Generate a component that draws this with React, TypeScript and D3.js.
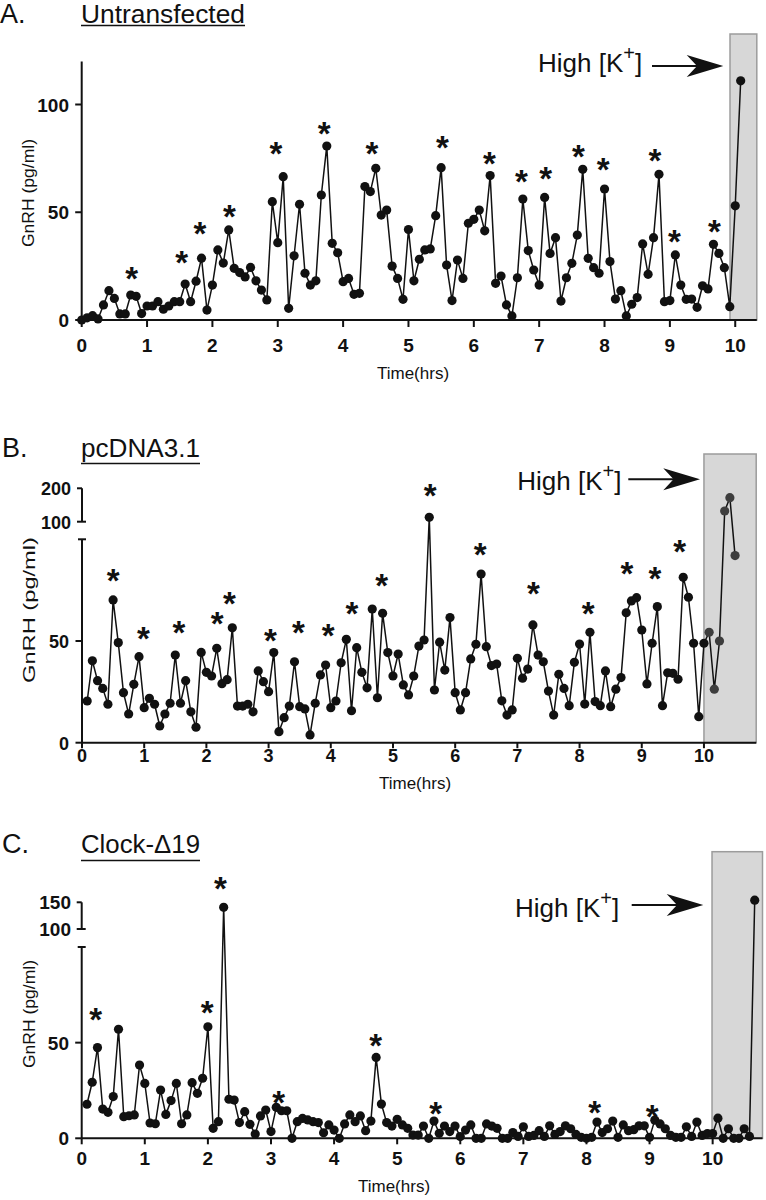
import React from 'react';
import * as d3 from 'd3';

const FONT = '"Liberation Sans", Arial, Helvetica, sans-serif';

// ---------- data ----------
const sampleMinutes = 5;
const xTickHours = [0, 1, 2, 3, 4, 5, 6, 7, 8, 9, 10];

// Panel A: Untransfected (samples start at t = 0)
const firstSampleA = 0;
const gnrhA = [
  0, 1, 2, 0.5, 7, 13.6, 10, 2.8, 2.8, 11.6,
  11, 3, 6.5, 6.5, 8.5, 5, 6.5, 8.5, 8.5, 16.7,
  8.5, 18, 28.7, 4.6, 16.2, 32.5, 26.4, 41.8, 24, 22,
  20, 24.4, 18.2, 13.9, 9.3, 54.9, 35.9, 66.5, 5.4, 29.8,
  53.7, 21.7, 16.2, 18.2, 58, 80.7, 35.6, 31.2, 17.8, 19.3,
  11.9, 12.4, 61.9, 59.6, 70.4, 48.7, 51, 25, 19.3, 9.6,
  42, 18.2, 28.2, 32.5, 33, 48.4, 70.7, 25.5, 9, 27.8,
  19.3, 44.9, 46.7, 51, 41.4, 67, 17, 20.4, 7, 1.9,
  19.6, 56.1, 32.2, 23.2, 16.2, 56.9, 30.9, 38.2, 8.8, 19.6,
  26.3, 39.4, 69.9, 28.6, 24.3, 21.7, 60.8, 27.1, 9.7, 13.6,
  1.9, 7.3, 10.4, 35.3, 21.2, 38.2, 67.6, 8.5, 9, 30.2,
  16.2, 9.6, 9.7, 5.9, 15.9, 14.4, 35.1, 30.9, 24.3, 6.2,
  53, 111,
];
const starHoursA = [0.765, 1.53, 1.81, 2.26, 2.97, 3.71, 4.44, 5.52, 6.24, 6.73, 7.1, 7.6, 7.98, 8.77, 9.07, 9.68];
const starValuesA = [22.4, 29.7, 43.6, 51.4, 80.7, 90, 80.7, 83.5, 75.8, 67.3, 68.8, 78.9, 73, 77.3, 39.8, 44.5];
const yTicksA = [0, 50, 100];

// Panel B: pcDNA3.1 (samples start at t = 5 min)
const firstSampleB = 1;
const gnrhB = [
  20.5, 40.3, 30.5, 26.7, 18.9, 70.2, 49.2, 24.6, 14.1, 28.7,
  42.3, 17.2, 21.8, 18.9, 8.2, 14.1, 19.4, 43.1, 19.4, 30.5,
  15.2, 7.6, 44.4, 34.6, 32.8, 46.4, 29, 31, 56.5, 18,
  18, 18.9, 15.2, 35.3, 30, 25.1, 44.3, 5.4, 12.3, 18,
  39.8, 17.7, 16.6, 3.8, 19.4, 33.3, 38.2, 17.2, 20.5, 39.3,
  50.8, 15.7, 46.7, 34.6, 27, 65.7, 22.1, 63.6, 44.3, 32.8,
  43.6, 28.4, 23.5, 32.8, 47.5, 50.5, 113, 25.9, 49.4, 35.7,
  61.5, 24.6, 16.1, 24.6, 41.2, 48.4, 82.9, 47.2, 37.9, 38.7,
  20.6, 13.6, 16.1, 41.5, 31.7, 36.2, 57.9, 43.1, 39.8, 25.4,
  13.6, 33.6, 26.7, 18.2, 39.5, 48.5, 19, 54.3, 20.2, 18.2,
  35.3, 17.7, 26.3, 32, 63.9, 69.7, 71.3, 55.4, 28.9, 48.9,
  66.9, 18.2, 34.4, 34.1, 31.2, 81.3, 71.5, 48.9, 12.8, 48.9,
  54.3, 26.3, 50, 132, 172, 92,
];
const starHoursB = [0.503, 0.986, 1.56, 2.175, 2.37, 3.03, 3.48, 3.96, 4.34, 4.82, 5.6, 6.4, 7.26, 8.14, 8.76, 9.21, 9.61];
const starValuesB = [83.3, 54.9, 57.5, 62, 71.8, 53.8, 57.4, 56.2, 66.9, 80.8, 200, 96, 76.7, 66.9, 86.5, 84.1, 97.2];
const yTicksLowerB = [0, 50];
const yTicksUpperB = [100, 200];

// Panel C: Clock-Δ19 (samples start at t = 5 min)
const firstSampleC = 1;
const gnrhC = [
  17.8, 29.3, 47.4, 15.3, 13.6, 21.8, 57, 11.3, 11.8, 12.2,
  38.3, 28.7, 8, 7.6, 25.2, 12.5, 19.7, 28.7, 7.6, 12.2,
  29.1, 23.5, 31.4, 58.3, 5.2, 8.7, 140.6, 20.4, 20, 8.2,
  13.9, 7.3, 2.2, 11.7, 14.8, 3.5, 16.2, 14.4, 14.4, 0,
  8.7, 10.4, 9.6, 8.7, 8.2, 2.9, 7, 4.3, 0, 7.5,
  12.2, 8.7, 11.7, 4, 9, 42.3, 17.9, 8.2, 6.4, 9.9,
  7, 5.2, 1.7, 1.7, 6.4, 0, 9, 2.6, 6.4, 3.5,
  6.4, 0.9, 4.3, 7, 0, 0, 7.5, 6.4, 5.2, 0,
  0, 3, 1, 6, 1, 1.5, 4, 1, 6.5, 2,
  3.5, 6.5, 5, 2, 0.5, 0, 0.5, 8.5, 3, 5,
  9, 0.5, 7, 4, 4.5, 6.5, 6.5, 0.5, 9.5, 7.5,
  5, 1.5, 0.5, 0.5, 6, 1, 8.5, 1.5, 2.5, 2.5,
  10.5, 0, 5, 0, 0, 5, 1, 154,
];
const starHoursC = [0.22, 1.99, 2.2, 3.12, 4.66, 5.61, 8.13, 9.04];
const starValuesC = [65.7, 69.2, 188.6, 22.6, 52.3, 16.5, 16.9, 14.8];
const yTicksLowerC = [0, 50];
const yTicksUpperC = [100, 150];

// high K+ stimulation window start (hours)
const kStartA = 9.92;
const kStartB = 10.0;
const kStartC = 9.99;

// ---------- layout ----------
type Cfg = {
  letter: string; letterX: number; title: string; titleBase: number; titleW: number; underlineY: number;
  values: number[]; firstSample: number; starH: number[]; starV: number[];
  x0: number; x1: number; hMax: number;
  yZero: number; lowerTopPx: number; lowerMax: number;
  upper: null | { dom: [number, number]; rng: [number, number] };
  lowerTicks: number[]; upperTicks: number[];
  kStart: number; boxTop: number; boxDot: string;
  xLabelBase: number; xTickLen: number; tickFs: number;
  timeX: number; timeBase: number;
  yLabX: number; yLabY: number; yLabLen: number;
  kx: number; kBase: number; lineX1: number; headBack: number; headNotch: number; headTip: number; arrowY: number;
};

const panels: Cfg[] = [
  {
    letter: 'A.', letterX: 0, title: 'Untransfected', titleBase: 23, titleW: 164, underlineY: 25.5,
    values: gnrhA, firstSample: firstSampleA, starH: starHoursA, starV: starValuesA,
    x0: 81.7, x1: 756.8, hMax: 10.33,
    yZero: 320, lowerTopPx: 61.4, lowerMax: 120, upper: null,
    lowerTicks: yTicksA, upperTicks: [],
    kStart: kStartA, boxTop: 34, boxDot: '#111',
    xLabelBase: 352, xTickLen: 7, tickFs: 19,
    timeX: 413, timeBase: 379,
    yLabX: 28, yLabY: 193, yLabLen: 108,
    kx: 538, kBase: 72, lineX1: 652, headBack: 686.7, headNotch: 697, headTip: 723.3, arrowY: 66,
  },
  {
    letter: 'B.', letterX: 2, title: 'pcDNA3.1', titleBase: 456.7, titleW: 119, underlineY: 463.5,
    values: gnrhB, firstSample: firstSampleB, starH: starHoursB, starV: starValuesB,
    x0: 82, x1: 756.2, hMax: 10.84,
    yZero: 742.7, lowerTopPx: 539.3, lowerMax: 100,
    upper: { dom: [100, 200], rng: [521.7, 488.3] },
    lowerTicks: yTicksLowerB, upperTicks: yTicksUpperB,
    kStart: kStartB, boxTop: 454, boxDot: '#3d3d3d',
    xLabelBase: 762.3, xTickLen: 5.5, tickFs: 18,
    timeX: 415, timeBase: 789,
    yLabX: 29, yLabY: 610, yLabLen: 146,
    kx: 517.3, kBase: 490, lineX1: 628.3, headBack: 663.3, headNotch: 673.5, headTip: 700, arrowY: 479.3,
  },
  {
    letter: 'C.', letterX: 2, title: 'Clock-\u039419', titleBase: 853.3, titleW: 119, underlineY: 860.5,
    values: gnrhC, firstSample: firstSampleC, starH: starHoursC, starV: starValuesC,
    x0: 81.7, x1: 762.5, hMax: 10.79,
    yZero: 1138.3, lowerTopPx: 947, lowerMax: 100,
    upper: { dom: [100, 150], rng: [929, 902.3] },
    lowerTicks: yTicksLowerC, upperTicks: yTicksUpperC,
    kStart: kStartC, boxTop: 851.7, boxDot: '#111',
    xLabelBase: 1165, xTickLen: 6, tickFs: 19,
    timeX: 394, timeBase: 1192,
    yLabX: 29, yLabY: 1014, yLabLen: 108,
    kx: 515, kBase: 916.7, lineX1: 631.7, headBack: 666.7, headNotch: 677, headTip: 703.3, arrowY: 905,
  },
];

const INK = '#111';
const STAR_FS = 33;

function Panel({ c }: { c: Cfg }) {
  const x = d3.scaleLinear().domain([0, c.hMax]).range([c.x0, c.x1]);
  const yLow = d3.scaleLinear().domain([0, c.lowerMax]).range([c.yZero, c.lowerTopPx]);
  const yUp = c.upper ? d3.scaleLinear().domain(c.upper.dom).range(c.upper.rng) : null;
  const y = (v: number) => (yUp && v > c.lowerMax ? yUp(v) : yLow(v));

  const pts: [number, number][] = c.values.map((v, i) => [((c.firstSample + i) * sampleMinutes) / 60, v]);
  const line = d3.line<[number, number]>().x((d) => x(d[0])).y((d) => y(d[1]));

  const ax = c.x0;
  const h = 11;

  return (
    <g>
      {/* titles */}
      <text x={c.letterX} y={c.titleBase} fontSize={27} fontFamily={FONT} fill={INK}>{c.letter}</text>
      <text x={81} y={c.titleBase} fontSize={26} fontFamily={FONT} fill={INK} textLength={c.titleW} lengthAdjust="spacingAndGlyphs">{c.title}</text>
      <line x1={81} x2={81 + c.titleW} y1={c.underlineY} y2={c.underlineY} stroke={INK} strokeWidth={1.6} />

      {/* high K+ box */}
      <rect x={x(c.kStart)} y={c.boxTop} width={x(c.hMax) - x(c.kStart)} height={c.yZero - c.boxTop}
        fill="#d7d7d7" stroke="#9c9c9c" strokeWidth={1.5} />

      {/* annotation */}
      <text x={c.kx} y={c.kBase} fontSize={26} fontFamily={FONT} fill={INK}>
        High [K<tspan fontSize={20} dy={-12}>+</tspan><tspan dy={12}>]</tspan>
      </text>
      <line x1={c.lineX1} x2={c.headNotch + 1} y1={c.arrowY} y2={c.arrowY} stroke={INK} strokeWidth={2} />
      <path d={`M${c.headTip},${c.arrowY} L${c.headBack},${c.arrowY - h} L${c.headNotch},${c.arrowY} L${c.headBack},${c.arrowY + h} Z`} fill={INK} />

      {/* y axis */}
      <line x1={ax} x2={ax} y1={c.yZero} y2={c.lowerTopPx} stroke={INK} strokeWidth={2} />
      {c.upper && <line x1={ax - 4} x2={ax + 4} y1={c.lowerTopPx} y2={c.lowerTopPx} stroke={INK} strokeWidth={2} />}
      {c.lowerTicks.map((t) => (
        <g key={'yl' + t}>
          <line x1={ax - 6.5} x2={ax} y1={yLow(t)} y2={yLow(t)} stroke={INK} strokeWidth={2} />
          <text x={69} y={yLow(t) + 7} textAnchor="end" fontSize={c.tickFs} fontWeight="bold" fontFamily={FONT} fill={INK}>{t}</text>
        </g>
      ))}
      {yUp && c.upper && (
        <g>
          <line x1={ax} x2={ax} y1={c.upper.rng[0]} y2={c.upper.rng[1]} stroke={INK} strokeWidth={2} />
          {c.upperTicks.map((t, i) => (
            <g key={'yu' + t}>
              <line x1={ax - 5} x2={i === 0 ? ax + 4 : ax} y1={yUp(t)} y2={yUp(t)} stroke={INK} strokeWidth={2} />
              <text x={71} y={yUp(t) + 7} textAnchor="end" fontSize={c.tickFs} fontWeight="bold" fontFamily={FONT} fill={INK}>{t}</text>
            </g>
          ))}
        </g>
      )}
      <text transform={`translate(${c.yLabX},${c.yLabY}) rotate(-90)`} textAnchor="middle" dominantBaseline="central"
        fontSize={17} fontFamily={FONT} fill={INK} textLength={c.yLabLen} lengthAdjust="spacingAndGlyphs">GnRH (pg/ml)</text>

      {/* x axis */}
      <line x1={c.x0} x2={c.x1} y1={c.yZero} y2={c.yZero} stroke={INK} strokeWidth={2} />
      {xTickHours.map((t) => (
        <g key={'x' + t}>
          <line x1={x(t)} x2={x(t)} y1={c.yZero} y2={c.yZero + c.xTickLen} stroke={INK} strokeWidth={2} />
          <text x={x(t)} y={c.xLabelBase} textAnchor="middle" fontSize={c.tickFs} fontWeight="bold" fontFamily={FONT} fill={INK}>{t}</text>
        </g>
      ))}
      <text x={c.timeX} y={c.timeBase} textAnchor="middle" fontSize={17} fontFamily={FONT} fill={INK}>Time(hrs)</text>

      {/* series */}
      <path d={line(pts) || ''} fill="none" stroke={INK} strokeWidth={1.5} strokeLinejoin="round" />
      {pts.map((d, i) => (
        <circle key={'p' + i} cx={x(d[0])} cy={y(d[1])} r={4.6}
          fill={d[0] > c.kStart + 0.04 ? c.boxDot : INK} />
      ))}

      {/* significant pulses */}
      {c.starH.map((t, i) => (
        <text key={'s' + i} x={x(t)} y={y(c.starV[i]) + 0.56 * STAR_FS} textAnchor="middle"
          fontSize={STAR_FS} fontWeight="bold" fontFamily={FONT} fill={INK}>*</text>
      ))}
    </g>
  );
}

export default function App() {
  return (
    <svg width={766} height={1200} viewBox="0 0 766 1200"
      style={{ position: 'absolute', left: 0, top: 0, background: '#fff' }}>
      <rect x={0} y={0} width={766} height={1200} fill="#fff" />
      {panels.map((c) => <Panel key={c.letter} c={c} />)}
    </svg>
  );
}
